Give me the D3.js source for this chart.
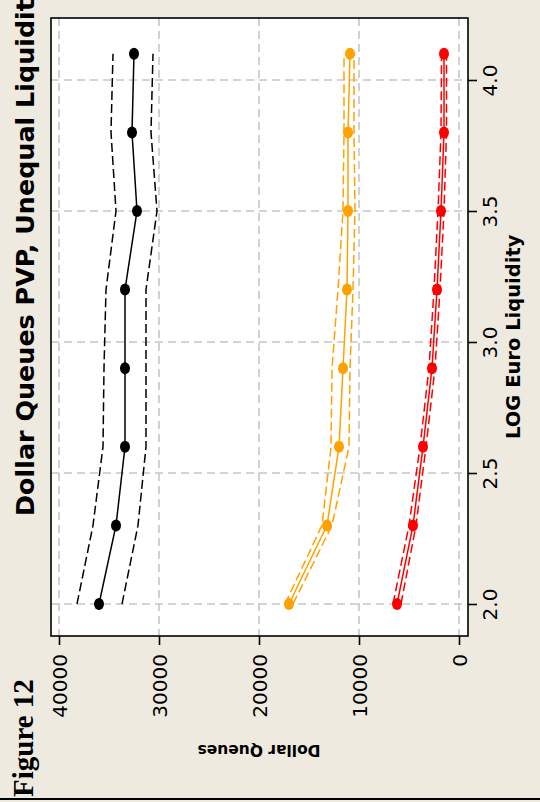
<!DOCTYPE html>
<html>
<head>
<meta charset="utf-8">
<script src="https://cdn.jsdelivr.net/npm/d3@7"></script>
<style>
  html, body { margin: 0; padding: 0; background: #efeae0; }
  svg { display: block; }
</style>
</head>
<body>
<svg id="chart" width="540" height="802"></svg>
<script>
// ---- data ----
const liquidity   = [2.0, 2.3, 2.6, 2.9, 3.2, 3.5, 3.8, 4.1];
const blackMean   = [36000, 34300, 33400, 33400, 33400, 32200, 32700, 32500];
const blackUpper  = [38200, 36600, 35600, 35500, 35300, 34300, 34800, 34600];
const blackLower  = [33700, 32100, 31300, 31300, 31300, 30200, 30800, 30600];
const orangeMean  = [17000, 13200, 12000, 11600, 11200, 11100, 11100, 10900];
const orangeUpper = [17400, 13700, 12800, 12700, 12100, 11600, 11500, 11500];
const orangeLower = [16600, 12700, 11000, 10900, 10600, 10400, 10500, 10500];
const redMean     = [6200, 4600, 3600, 2700, 2200, 1800, 1500, 1500];
const redUpper    = [6600, 5000, 3900, 3000, 2500, 2100, 1800, 1750];
const redLower    = [5800, 4300, 3300, 2400, 1900, 1500, 1250, 1250];
const valueTicks  = [0, 10000, 20000, 30000, 40000];
const liqTicks    = [2.0, 2.5, 3.0, 3.5, 4.0];
const titleText   = "Dollar Queues PVP, Unequal Liquidity";
const xTitle      = "LOG Euro Liquidity";
const yTitle      = "Dollar Queues";
const figLabel    = "Figure 12";

const series = [
  {color: "#000000", mean: blackMean,  upper: blackUpper,  lower: blackLower},
  {color: "#ffa200", mean: orangeMean, upper: orangeUpper, lower: orangeLower},
  {color: "#ff0000", mean: redMean,    upper: redUpper,    lower: redLower}
];

const svg = d3.select("#chart");
const FONT = "'DejaVu Sans', Verdana, sans-serif";

// The chart is rotated: values run horizontally (right->left), liquidity vertically (bottom->top)
const frame = {left: 51, right: 468, top: 18, bottom: 636};
const vScale = d3.scaleLinear().domain([0, 40000]).range([459, 59]);
const lScale = d3.scaleLinear().domain([2, 4]).range([604, 80]);

// background
svg.append("rect").attr("x", 0).attr("y", 0).attr("width", 540).attr("height", 802).attr("fill", "#efeae0");
// plot region
svg.append("rect").attr("x", frame.left).attr("y", frame.top)
  .attr("width", frame.right - frame.left).attr("height", frame.bottom - frame.top)
  .attr("fill", "#ffffff");

// grid
const grid = svg.append("g");
grid.selectAll("line.v").data(valueTicks).enter().append("line")
  .attr("x1", d => vScale(d)).attr("x2", d => vScale(d))
  .attr("y1", frame.top).attr("y2", frame.bottom)
  .attr("stroke", "#c6c6c6").attr("stroke-width", 1.6).attr("stroke-dasharray", "8,5");
grid.selectAll("line.h").data(liqTicks).enter().append("line")
  .attr("y1", d => lScale(d)).attr("y2", d => lScale(d))
  .attr("x1", frame.left).attr("x2", frame.right)
  .attr("stroke", "#c6c6c6").attr("stroke-width", 1.6).attr("stroke-dasharray", "8,5");

// series
const lineGen = d3.line().x(d => vScale(d.v)).y(d => lScale(d.l));
series.forEach(s => {
  const g = svg.append("g");
  ["upper", "lower"].forEach(k => {
    g.append("path")
      .attr("d", lineGen(liquidity.map((l, i) => ({l, v: s[k][i]}))))
      .attr("fill", "none").attr("stroke", s.color).attr("stroke-width", 1.5)
      .attr("stroke-dasharray", "9,4");
  });
  g.append("path")
    .attr("d", lineGen(liquidity.map((l, i) => ({l, v: s.mean[i]}))))
    .attr("fill", "none").attr("stroke", s.color).attr("stroke-width", 1.5);
  g.selectAll("ellipse").data(liquidity.map((l, i) => ({l, v: s.mean[i]}))).enter()
    .append("ellipse")
    .attr("cx", d => vScale(d.v)).attr("cy", d => lScale(d.l))
    .attr("rx", 5).attr("ry", 6).attr("fill", s.color);
});

// frame
svg.append("rect").attr("x", frame.left).attr("y", frame.top)
  .attr("width", frame.right - frame.left).attr("height", frame.bottom - frame.top)
  .attr("fill", "none").attr("stroke", "#000").attr("stroke-width", 1.6);

// value axis (bottom)
const vAxis = svg.append("g").attr("transform", `translate(0,${frame.bottom})`)
  .call(d3.axisBottom(vScale).tickValues(valueTicks).tickSize(9).tickFormat(d3.format("d")));
vAxis.select(".domain").remove();
vAxis.selectAll(".tick line").attr("stroke", "#000").attr("stroke-width", 1.6);
vAxis.selectAll(".tick text")
  .attr("font-family", FONT).attr("font-size", 20).attr("fill", "#000")
  .attr("text-anchor", "end")
  .attr("transform", "translate(0,18) rotate(-90)")
  .attr("x", 0).attr("y", 0).attr("dy", "0.36em");

// liquidity axis (right)
const lAxis = svg.append("g").attr("transform", `translate(${frame.right},0)`)
  .call(d3.axisRight(lScale).tickValues(liqTicks).tickSize(9).tickFormat(d3.format(".1f")));
lAxis.select(".domain").remove();
lAxis.selectAll(".tick line").attr("stroke", "#000").attr("stroke-width", 1.6);
lAxis.selectAll(".tick text")
  .attr("font-family", FONT).attr("font-size", 20).attr("fill", "#000")
  .attr("text-anchor", "middle")
  .attr("transform", "translate(29,0) rotate(-90)")
  .attr("x", 0).attr("y", 0).attr("dy", 0);

// axis titles
svg.append("text").text(xTitle)
  .attr("transform", `translate(520,${lScale(3.02)}) rotate(-90)`)
  .attr("text-anchor", "middle").attr("font-family", FONT)
  .attr("font-weight", "bold").attr("font-size", 19.5).attr("fill", "#000");

svg.append("text").text(yTitle)
  .attr("transform", `translate(${vScale(20000)},745) rotate(180)`)
  .attr("text-anchor", "middle").attr("font-family", FONT)
  .attr("font-weight", "bold").attr("font-size", 15.5).attr("fill", "#000");

// title
svg.append("text").text(titleText)
  .attr("transform", `translate(34,516) rotate(-90)`)
  .attr("text-anchor", "start").attr("font-family", FONT)
  .attr("font-weight", "bold").attr("font-size", 25.4).attr("fill", "#000");

// figure label
svg.append("text").text(figLabel)
  .attr("transform", `translate(33,797) rotate(-90)`)
  .attr("text-anchor", "start").attr("font-family", "'Liberation Serif', 'Times New Roman', serif")
  .attr("font-weight", "bold").attr("font-size", 29).attr("fill", "#000");

// bottom rule
svg.append("line").attr("x1", 0).attr("x2", 540).attr("y1", 799).attr("y2", 799)
  .attr("stroke", "#000").attr("stroke-width", 2);
</script>
</body>
</html>
